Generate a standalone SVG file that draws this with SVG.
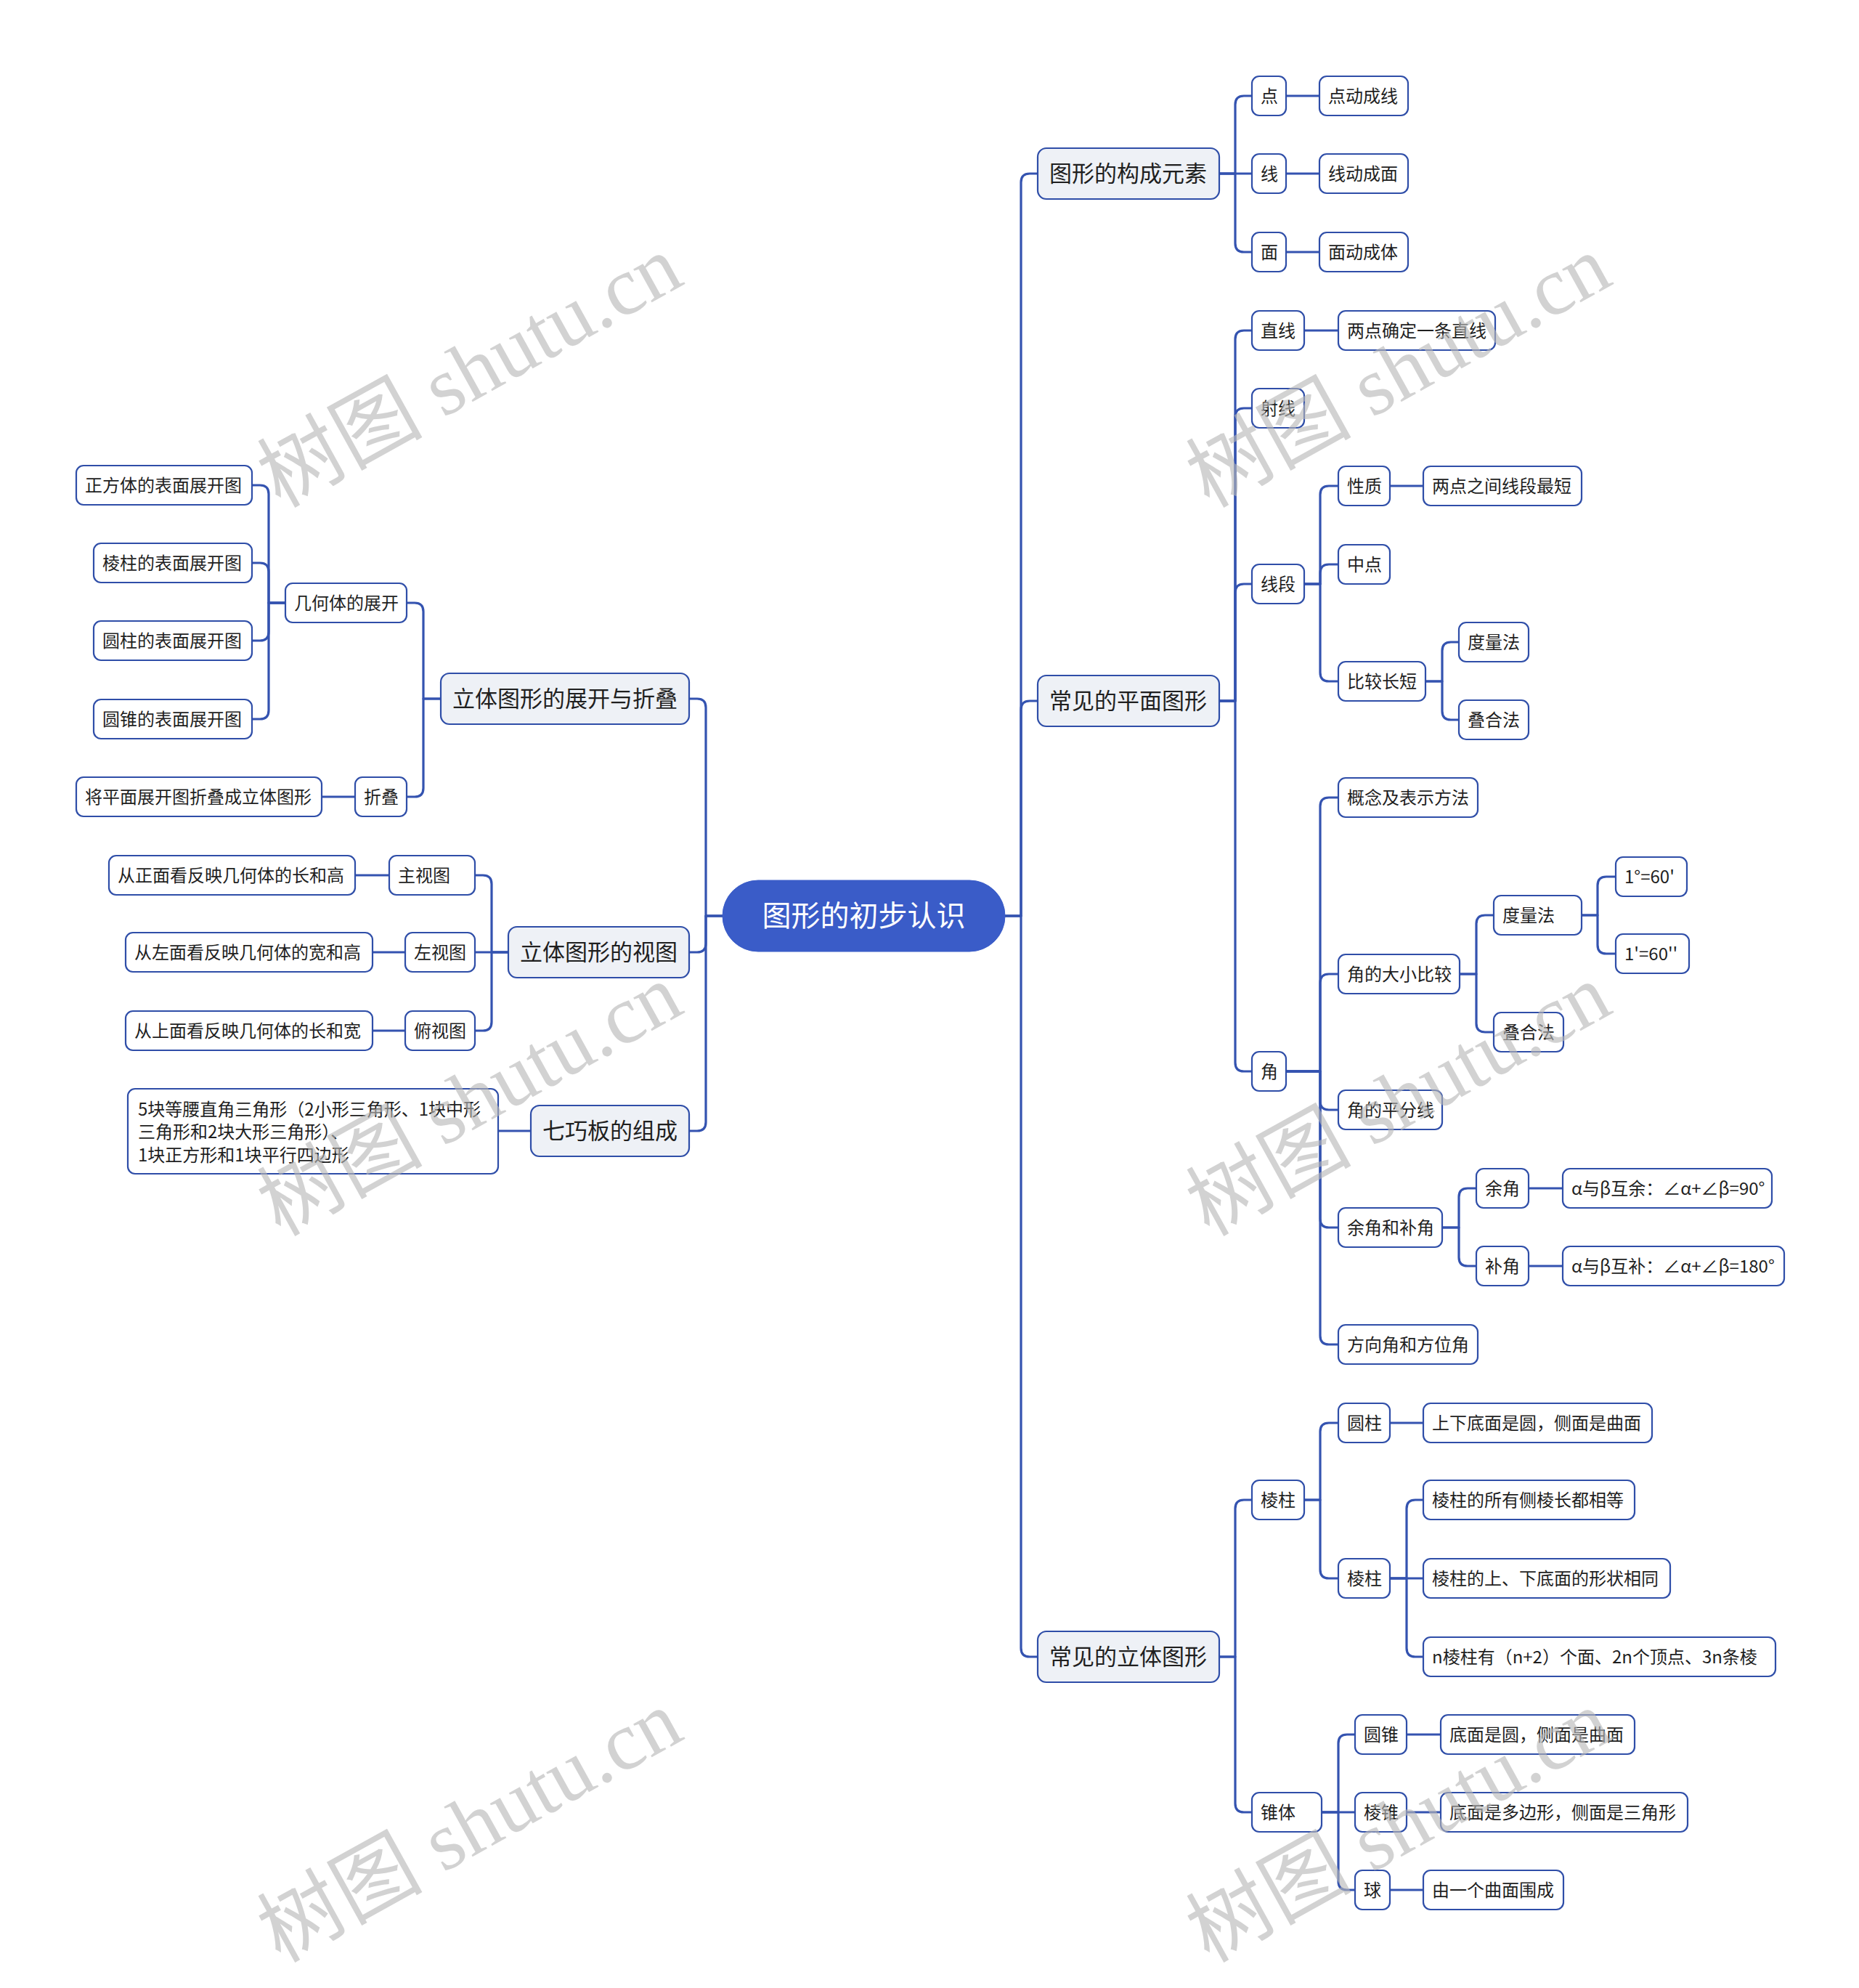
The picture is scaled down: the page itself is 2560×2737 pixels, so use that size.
<svg xmlns="http://www.w3.org/2000/svg" width="2560" height="2737" viewBox="0 0 2560 2737">
<style>
text{font-family:"Noto Sans CJK SC","Noto Sans",sans-serif;fill:#1f1f1f}
.s rect{fill:#ffffff;stroke:#2f4ea8;stroke-width:2.2}
.s text{font-size:24px}
.m rect{fill:#eef1f6;stroke:#2f4ea8;stroke-width:2.2}
.m text{font-size:31px}
.root rect{fill:#3a5cc8;stroke:#3a5cc8}
.root text{font-size:40px;fill:#ffffff}
#connectors path{fill:none;stroke:#3453b0;stroke-width:3.2;stroke-linejoin:round}
.wm{font-family:"Liberation Serif","Noto Sans CJK SC",serif;font-size:114px;fill:#b8b8b8;opacity:0.62}
</style>
<rect width="2560" height="2737" fill="#ffffff"/>
<g id="connectors">
<path d="M1384 1261 H1406 V251 Q1406 239 1418 239 H1429"/>
<path d="M1384 1261 H1406 V977 Q1406 965 1418 965 H1429"/>
<path d="M1384 1261 H1406 V2269 Q1406 2281 1418 2281 H1429"/>
<path d="M995 1261 H972 V974 Q972 962 960 962 H949"/>
<path d="M995 1261 H972 V1299 Q972 1311 960 1311 H949"/>
<path d="M995 1261 H972 V1545 Q972 1557 960 1557 H949"/>
<path d="M1679 239 H1701 V144 Q1701 132 1713 132 H1724"/>
<path d="M1679 239 H1724"/>
<path d="M1679 239 H1701 V335 Q1701 347 1713 347 H1724"/>
<path d="M1771 132 H1817"/>
<path d="M1771 239 H1817"/>
<path d="M1771 347 H1817"/>
<path d="M1679 965 H1701 V467 Q1701 455 1713 455 H1724"/>
<path d="M1679 965 H1701 V574 Q1701 562 1713 562 H1724"/>
<path d="M1679 965 H1701 V816 Q1701 804 1713 804 H1724"/>
<path d="M1679 965 H1701 V1463 Q1701 1475 1713 1475 H1724"/>
<path d="M1796 455 H1843"/>
<path d="M1796 804 H1818 V681 Q1818 669 1830 669 H1843"/>
<path d="M1796 804 H1818 V789 Q1818 777 1830 777 H1843"/>
<path d="M1796 804 H1818 V926 Q1818 938 1830 938 H1843"/>
<path d="M1914 669 H1960"/>
<path d="M1963 938 H1986 V896 Q1986 884 1998 884 H2009"/>
<path d="M1963 938 H1986 V979 Q1986 991 1998 991 H2009"/>
<path d="M1771 1475 H1818 V1110 Q1818 1098 1830 1098 H1843"/>
<path d="M1771 1475 H1818 V1353 Q1818 1341 1830 1341 H1843"/>
<path d="M1771 1475 H1818 V1516 Q1818 1528 1830 1528 H1843"/>
<path d="M1771 1475 H1818 V1678 Q1818 1690 1830 1690 H1843"/>
<path d="M1771 1475 H1818 V1839 Q1818 1851 1830 1851 H1843"/>
<path d="M2010 1341 H2033 V1272 Q2033 1260 2045 1260 H2057"/>
<path d="M2010 1341 H2033 V1409 Q2033 1421 2045 1421 H2057"/>
<path d="M2178 1260 H2200 V1219 Q2200 1207 2212 1207 H2225"/>
<path d="M2178 1260 H2200 V1301 Q2200 1313 2212 1313 H2225"/>
<path d="M1986 1690 H2009 V1648 Q2009 1636 2021 1636 H2033"/>
<path d="M1986 1690 H2009 V1731 Q2009 1743 2021 1743 H2033"/>
<path d="M2105 1636 H2152"/>
<path d="M2105 1743 H2152"/>
<path d="M1679 2281 H1701 V2077 Q1701 2065 1713 2065 H1724"/>
<path d="M1679 2281 H1701 V2483 Q1701 2495 1713 2495 H1724"/>
<path d="M1796 2065 H1818 V1971 Q1818 1959 1830 1959 H1843"/>
<path d="M1796 2065 H1818 V2161 Q1818 2173 1830 2173 H1843"/>
<path d="M1914 1959 H1960"/>
<path d="M1914 2173 H1937 V2077 Q1937 2065 1949 2065 H1960"/>
<path d="M1914 2173 H1960"/>
<path d="M1914 2173 H1937 V2269 Q1937 2281 1949 2281 H1960"/>
<path d="M1820 2495 H1843 V2400 Q1843 2388 1855 2388 H1866"/>
<path d="M1820 2495 H1866"/>
<path d="M1820 2495 H1843 V2590 Q1843 2602 1855 2602 H1866"/>
<path d="M1937 2388 H1984"/>
<path d="M1937 2495 H1984"/>
<path d="M1914 2602 H1960"/>
<path d="M607 962 H583 V842 Q583 830 571 830 H560"/>
<path d="M607 962 H583 V1085 Q583 1097 571 1097 H560"/>
<path d="M393 830 H370 V680 Q370 668 358 668 H347"/>
<path d="M393 830 H370 V787 Q370 775 358 775 H347"/>
<path d="M393 830 H370 V870 Q370 882 358 882 H347"/>
<path d="M393 830 H370 V978 Q370 990 358 990 H347"/>
<path d="M489 1097 H443"/>
<path d="M700 1311 H677 V1217 Q677 1205 665 1205 H654"/>
<path d="M700 1311 H654"/>
<path d="M700 1311 H677 V1407 Q677 1419 665 1419 H654"/>
<path d="M536 1205 H489"/>
<path d="M558 1311 H513"/>
<path d="M558 1419 H513"/>
<path d="M731 1557 H686"/>
</g>
<g id="root" class="root"><rect x="995" y="1212" width="389" height="98" rx="49"/><text x="1189.5" y="1275" text-anchor="middle">图形的初步认识</text></g>
<g id="n-gxys" class="m"><rect x="1429" y="204" width="250" height="70" rx="12"/><text x="1445" y="250">图形的构成元素</text></g>
<g id="n-pmtx" class="m"><rect x="1429" y="930" width="250" height="70" rx="12"/><text x="1445" y="976">常见的平面图形</text></g>
<g id="n-ltxt" class="m"><rect x="1429" y="2246" width="250" height="70" rx="12"/><text x="1445" y="2292">常见的立体图形</text></g>
<g id="n-zkzd" class="m"><rect x="607" y="927" width="342" height="70" rx="12"/><text x="623" y="973">立体图形的展开与折叠</text></g>
<g id="n-st" class="m"><rect x="700" y="1276" width="249" height="70" rx="12"/><text x="716" y="1322">立体图形的视图</text></g>
<g id="n-qqb" class="m"><rect x="731" y="1522" width="218" height="70" rx="12"/><text x="747" y="1568">七巧板的组成</text></g>
<g id="n-dian" class="s"><rect x="1724" y="105" width="47" height="54" rx="10"/><text x="1736" y="141">点</text></g>
<g id="n-dian2" class="s"><rect x="1817" y="105" width="122" height="54" rx="10"/><text x="1829" y="141">点动成线</text></g>
<g id="n-xian" class="s"><rect x="1724" y="212" width="47" height="54" rx="10"/><text x="1736" y="248">线</text></g>
<g id="n-xian2" class="s"><rect x="1817" y="212" width="122" height="54" rx="10"/><text x="1829" y="248">线动成面</text></g>
<g id="n-mian" class="s"><rect x="1724" y="320" width="47" height="54" rx="10"/><text x="1736" y="356">面</text></g>
<g id="n-mian2" class="s"><rect x="1817" y="320" width="122" height="54" rx="10"/><text x="1829" y="356">面动成体</text></g>
<g id="n-zx" class="s"><rect x="1724" y="428" width="72" height="54" rx="10"/><text x="1736" y="464">直线</text></g>
<g id="n-zx2" class="s"><rect x="1843" y="428" width="216" height="54" rx="10"/><text x="1855" y="464">两点确定一条直线</text></g>
<g id="n-sx" class="s"><rect x="1724" y="535" width="72" height="54" rx="10"/><text x="1736" y="571">射线</text></g>
<g id="n-xd" class="s"><rect x="1724" y="777" width="72" height="54" rx="10"/><text x="1736" y="813">线段</text></g>
<g id="n-xz" class="s"><rect x="1843" y="642" width="71" height="54" rx="10"/><text x="1855" y="678">性质</text></g>
<g id="n-xz2" class="s"><rect x="1960" y="642" width="218" height="54" rx="10"/><text x="1972" y="678">两点之间线段最短</text></g>
<g id="n-zd" class="s"><rect x="1843" y="750" width="71" height="54" rx="10"/><text x="1855" y="786">中点</text></g>
<g id="n-bjcd" class="s"><rect x="1843" y="911" width="120" height="54" rx="10"/><text x="1855" y="947">比较长短</text></g>
<g id="n-dlf1" class="s"><rect x="2009" y="857" width="96" height="54" rx="10"/><text x="2021" y="893">度量法</text></g>
<g id="n-dhf1" class="s"><rect x="2009" y="964" width="96" height="54" rx="10"/><text x="2021" y="1000">叠合法</text></g>
<g id="n-jiao" class="s"><rect x="1724" y="1448" width="47" height="54" rx="10"/><text x="1736" y="1484">角</text></g>
<g id="n-gn" class="s"><rect x="1843" y="1071" width="192" height="54" rx="10"/><text x="1855" y="1107">概念及表示方法</text></g>
<g id="n-dxbj" class="s"><rect x="1843" y="1314" width="167" height="54" rx="10"/><text x="1855" y="1350">角的大小比较</text></g>
<g id="n-dlf2" class="s"><rect x="2057" y="1233" width="121" height="54" rx="10"/><text x="2069" y="1269">度量法</text></g>
<g id="n-d60" class="s"><rect x="2225" y="1180" width="98" height="54" rx="10"/><text x="2237" y="1216">1°=60'</text></g>
<g id="n-f60" class="s"><rect x="2225" y="1286" width="101" height="54" rx="10"/><text x="2237" y="1322">1'=60''</text></g>
<g id="n-dhf2" class="s"><rect x="2057" y="1394" width="96" height="54" rx="10"/><text x="2069" y="1430">叠合法</text></g>
<g id="n-pfx" class="s"><rect x="1843" y="1501" width="143" height="54" rx="10"/><text x="1855" y="1537">角的平分线</text></g>
<g id="n-yjbj" class="s"><rect x="1843" y="1663" width="143" height="54" rx="10"/><text x="1855" y="1699">余角和补角</text></g>
<g id="n-yj" class="s"><rect x="2033" y="1609" width="72" height="54" rx="10"/><text x="2045" y="1645">余角</text></g>
<g id="n-yj2" class="s"><rect x="2152" y="1609" width="288" height="54" rx="10"/><text x="2164" y="1645">α与β互余：∠α+∠β=90°</text></g>
<g id="n-bj" class="s"><rect x="2033" y="1716" width="72" height="54" rx="10"/><text x="2045" y="1752">补角</text></g>
<g id="n-bj2" class="s"><rect x="2152" y="1716" width="305" height="54" rx="10"/><text x="2164" y="1752">α与β互补：∠α+∠β=180°</text></g>
<g id="n-fxj" class="s"><rect x="1843" y="1824" width="192" height="54" rx="10"/><text x="1855" y="1860">方向角和方位角</text></g>
<g id="n-lz" class="s"><rect x="1724" y="2038" width="72" height="54" rx="10"/><text x="1736" y="2074">棱柱</text></g>
<g id="n-yz" class="s"><rect x="1843" y="1932" width="71" height="54" rx="10"/><text x="1855" y="1968">圆柱</text></g>
<g id="n-yz2" class="s"><rect x="1960" y="1932" width="315" height="54" rx="10"/><text x="1972" y="1968">上下底面是圆，侧面是曲面</text></g>
<g id="n-lz2" class="s"><rect x="1843" y="2146" width="71" height="54" rx="10"/><text x="1855" y="2182">棱柱</text></g>
<g id="n-lza" class="s"><rect x="1960" y="2038" width="291" height="54" rx="10"/><text x="1972" y="2074">棱柱的所有侧棱长都相等</text></g>
<g id="n-lzb" class="s"><rect x="1960" y="2146" width="340" height="54" rx="10"/><text x="1972" y="2182">棱柱的上、下底面的形状相同</text></g>
<g id="n-lzc" class="s"><rect x="1960" y="2254" width="485" height="54" rx="10"/><text x="1972" y="2290">n棱柱有（n+2）个面、2n个顶点、3n条棱</text></g>
<g id="n-zt" class="s"><rect x="1724" y="2468" width="96" height="54" rx="10"/><text x="1736" y="2504">锥体</text></g>
<g id="n-yzhui" class="s"><rect x="1866" y="2361" width="71" height="54" rx="10"/><text x="1878" y="2397">圆锥</text></g>
<g id="n-yzhui2" class="s"><rect x="1984" y="2361" width="267" height="54" rx="10"/><text x="1996" y="2397">底面是圆，侧面是曲面</text></g>
<g id="n-lzhui" class="s"><rect x="1866" y="2468" width="71" height="54" rx="10"/><text x="1878" y="2504">棱锥</text></g>
<g id="n-lzhui2" class="s"><rect x="1984" y="2468" width="340" height="54" rx="10"/><text x="1996" y="2504">底面是多边形，侧面是三角形</text></g>
<g id="n-qiu" class="s"><rect x="1866" y="2575" width="48" height="54" rx="10"/><text x="1878" y="2611">球</text></g>
<g id="n-qiu2" class="s"><rect x="1960" y="2575" width="193" height="54" rx="10"/><text x="1972" y="2611">由一个曲面围成</text></g>
<g id="n-jhtzk" class="s"><rect x="393" y="803" width="167" height="54" rx="10"/><text x="405" y="839">几何体的展开</text></g>
<g id="n-zft" class="s"><rect x="105" y="641" width="242" height="54" rx="10"/><text x="117" y="677">正方体的表面展开图</text></g>
<g id="n-lzzk" class="s"><rect x="129" y="748" width="218" height="54" rx="10"/><text x="141" y="784">棱柱的表面展开图</text></g>
<g id="n-yzzk" class="s"><rect x="129" y="855" width="218" height="54" rx="10"/><text x="141" y="891">圆柱的表面展开图</text></g>
<g id="n-yzhuizk" class="s"><rect x="129" y="963" width="218" height="54" rx="10"/><text x="141" y="999">圆锥的表面展开图</text></g>
<g id="n-zd2" class="s"><rect x="489" y="1070" width="71" height="54" rx="10"/><text x="501" y="1106">折叠</text></g>
<g id="n-zd3" class="s"><rect x="105" y="1070" width="338" height="54" rx="10"/><text x="117" y="1106">将平面展开图折叠成立体图形</text></g>
<g id="n-zst" class="s"><rect x="536" y="1178" width="118" height="54" rx="10"/><text x="548" y="1214">主视图</text></g>
<g id="n-zst2" class="s"><rect x="150" y="1178" width="339" height="54" rx="10"/><text x="162" y="1214">从正面看反映几何体的长和高</text></g>
<g id="n-zuost" class="s"><rect x="558" y="1284" width="96" height="54" rx="10"/><text x="570" y="1320">左视图</text></g>
<g id="n-zuost2" class="s"><rect x="173" y="1284" width="340" height="54" rx="10"/><text x="185" y="1320">从左面看反映几何体的宽和高</text></g>
<g id="n-fst" class="s"><rect x="558" y="1392" width="96" height="54" rx="10"/><text x="570" y="1428">俯视图</text></g>
<g id="n-fst2" class="s"><rect x="173" y="1392" width="340" height="54" rx="10"/><text x="185" y="1428">从上面看反映几何体的长和宽</text></g>
<g id="n-qqb2" class="s"><rect x="176" y="1499" width="510" height="117" rx="10"/><text x="190" y="1536">5块等腰直角三角形（2小形三角形、1块中形</text><text x="190" y="1567">三角形和2块大形三角形）、</text><text x="190" y="1599">1块正方形和1块平行四边形</text></g>
<g id="watermarks">
<text class="wm" transform="translate(646 510) rotate(-29)" y="40" text-anchor="middle">树图 shutu.cn</text>
<text class="wm" transform="translate(1925 510) rotate(-29)" y="40" text-anchor="middle">树图 shutu.cn</text>
<text class="wm" transform="translate(646 1513) rotate(-29)" y="40" text-anchor="middle">树图 shutu.cn</text>
<text class="wm" transform="translate(1925 1513) rotate(-29)" y="40" text-anchor="middle">树图 shutu.cn</text>
<text class="wm" transform="translate(646 2513) rotate(-29)" y="40" text-anchor="middle">树图 shutu.cn</text>
<text class="wm" transform="translate(1925 2513) rotate(-29)" y="40" text-anchor="middle">树图 shutu.cn</text>
</g>
</svg>
